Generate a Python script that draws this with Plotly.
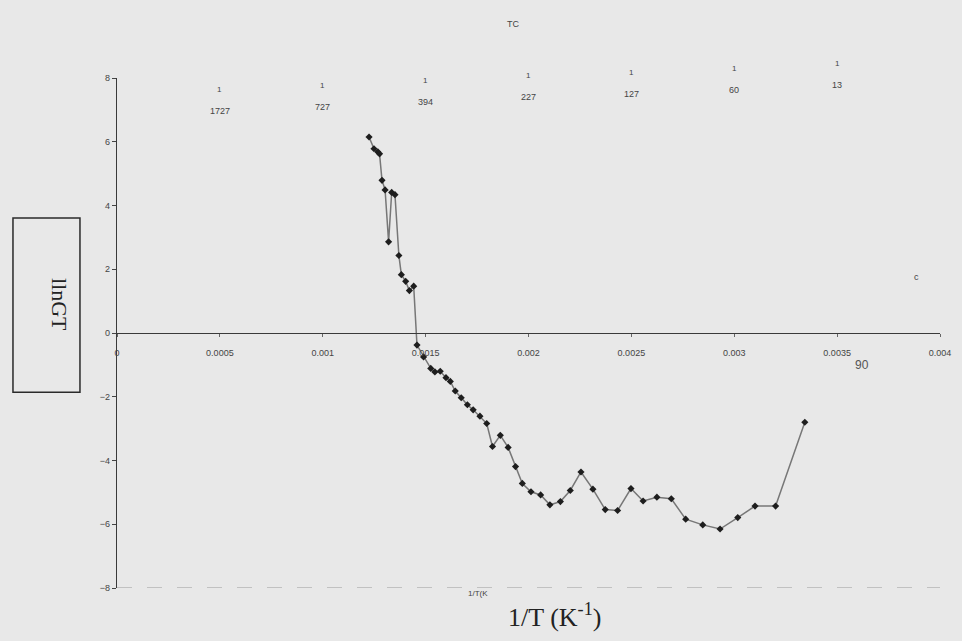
import plotly.graph_objects as go

# 1/T (K^-1) and lnGT
inv_T = [0.001225, 0.001249, 0.001268, 0.001276, 0.001288, 0.001303, 0.001320,
         0.001335, 0.001351, 0.001370, 0.001382, 0.001403, 0.001421, 0.001442,
         0.001458, 0.001490, 0.001525, 0.001545, 0.001571, 0.001599, 0.001620,
         0.001644, 0.001673, 0.001703, 0.001731, 0.001764, 0.001797, 0.001825,
         0.001863, 0.001901, 0.001937, 0.001970, 0.002012, 0.002059, 0.002104,
         0.002155, 0.002203, 0.002255, 0.002313, 0.002373, 0.002433, 0.002498,
         0.002557, 0.002624, 0.002694, 0.002764, 0.002847, 0.002931, 0.003017,
         0.003101, 0.003201, 0.003343]
ln_GT = [6.15, 5.78, 5.68, 5.62, 4.79, 4.49, 2.86,
         4.41, 4.34, 2.43, 1.83, 1.62, 1.33, 1.47,
         -0.38, -0.75, -1.11, -1.22, -1.20, -1.40, -1.52,
         -1.82, -2.03, -2.25, -2.41, -2.61, -2.84, -3.56,
         -3.21, -3.59, -4.19, -4.72, -4.98, -5.08, -5.39,
         -5.29, -4.94, -4.36, -4.90, -5.54, -5.57, -4.88,
         -5.27, -5.15, -5.20, -5.84, -6.02, -6.15, -5.79,
         -5.43, -5.43, -2.80]

x_tick_vals = [0, 0.0005, 0.001, 0.0015, 0.002, 0.0025, 0.003, 0.0035, 0.004]
x_tick_text = ["0", "0.0005", "0.001", "0.0015", "0.002", "0.0025", "0.003", "0.0035", "0.004"]
y_tick_vals = [-8, -6, -4, -2, 0, 2, 4, 6, 8]

# temperature (deg C) labels on top, at 1/T positions
temp_pos = [0.0005, 0.001, 0.0015, 0.002, 0.0025, 0.003, 0.0035]
temp_labels = ["1727", "727", "394", "227", "127", "60", "13"]
temp_label_y = [7.18, 7.31, 7.47, 7.62, 7.72, 7.84, 8.0]

Y_MIN, Y_MAX = -8, 8


def to_paper(v):
    return (v - Y_MIN) / (Y_MAX - Y_MIN)


BG = "#e8e8e8"
fig = go.Figure()
fig.add_trace(go.Scatter(
    x=inv_T, y=ln_GT, mode="lines+markers",
    line=dict(color="#777777", width=1.5),
    marker=dict(symbol="diamond", size=5.5, color="#1e1e1e"),
    showlegend=False, cliponaxis=False))

# bottom border line at y = -8
fig.add_shape(type="line", xref="x", yref="y", x0=0, x1=0.004, y0=-8, y1=-8,
              line=dict(color="#9a9a9a", width=1, dash="longdash"))

# box around the y title
fig.add_shape(type="rect", xref="paper", yref="paper",
              x0=-0.1264, x1=-0.0450, y0=0.384, y1=0.7255,
              line=dict(color="#2a2a2a", width=1.5))

annotations = [
    dict(text="llnGT", xref="paper", yref="paper", x=-0.0875, y=0.556,
         showarrow=False, textangle=90,
         font=dict(family="Liberation Serif", size=22, color="#222")),
    dict(text="1/T (K<sup>-1</sup>)", xref="paper", yref="paper", x=0.532, y=-0.053,
         showarrow=False, yanchor="middle",
         font=dict(family="Liberation Serif", size=26, color="#222")),
    dict(text="1/T(K", xref="paper", yref="paper", x=0.4386, y=-0.024,
         showarrow=False, font=dict(family="Liberation Sans", size=8, color="#444")),
    dict(text="TC", xref="paper", yref="paper", x=0.4812, y=1.12,
         showarrow=False, font=dict(family="Liberation Sans", size=9, color="#444")),
    dict(text="90", xref="x", yref="y", x=0.00362, y=-1.0,
         showarrow=False, font=dict(family="Liberation Sans", size=12, color="#555")),
    dict(text="c", xref="x", yref="y", x=0.003885, y=1.75,
         showarrow=False, font=dict(family="Liberation Sans", size=9, color="#444")),
]
for xp, lab, yl in zip(temp_pos, temp_labels, temp_label_y):
    annotations.append(dict(text=lab, xref="x", yref="paper", x=xp, y=to_paper(yl),
                            showarrow=False,
                            font=dict(family="Liberation Sans Narrow, Liberation Sans", size=9, color="#444")))
    annotations.append(dict(text="1", xref="x", yref="paper", x=xp, y=to_paper(yl + 0.66),
                            showarrow=False,
                            font=dict(family="Liberation Sans", size=8, color="#444")))

fig.update_layout(
    width=962, height=641,
    margin=dict(l=117, r=22, t=78, b=53),
    paper_bgcolor=BG, plot_bgcolor=BG,
    annotations=annotations,
    xaxis=dict(range=[0, 0.004], tickvals=x_tick_vals, ticktext=x_tick_text,
               showgrid=False, zeroline=False, showline=True,
               linecolor="#3a3a3a", linewidth=1.3,
               anchor="free", position=0.5,
               ticks="outside", ticklen=3, tickcolor="#666",
               ticklabelstandoff=8,
               tickfont=dict(family="Liberation Sans Narrow, Liberation Sans", size=9, color="#444")),
    yaxis=dict(range=[Y_MIN, Y_MAX], tickvals=y_tick_vals,
               showgrid=False, zeroline=False, showline=True,
               linecolor="#3a3a3a", linewidth=1.3,
               ticks="outside", ticklen=4, tickcolor="#444",
               tickfont=dict(family="Liberation Sans", size=9, color="#444")),
)

fig.write_html("out.html")
